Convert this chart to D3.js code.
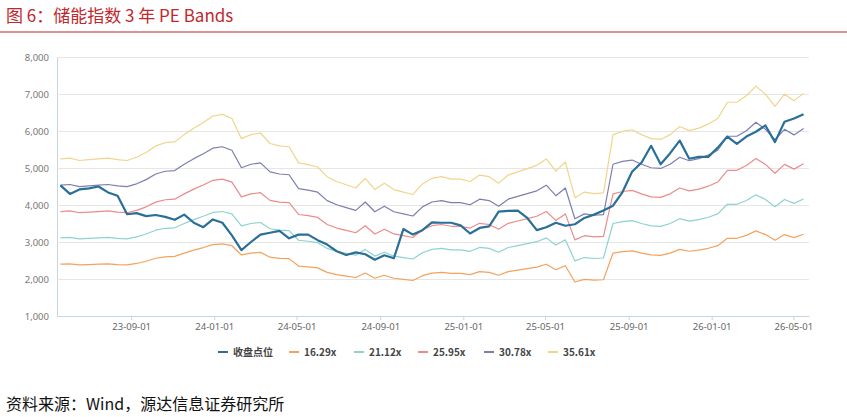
<!DOCTYPE html>
<html><head><meta charset="utf-8">
<script src="https://cdn.jsdelivr.net/npm/d3@7"></script>
<style>body{margin:0;background:#fff;font-family:"Noto Sans CJK SC","Noto Sans",sans-serif;}</style>
</head><body><div id="chart"></div>
<script>
// 1. Data, one point every 14 days from 2023-05-20
const startDate = "2023-05-20";
const closeValues = [4530,4300,4420,4450,4500,4340,4250,3750,3780,3700,3730,3680,3600,3740,3520,3400,3610,3520,3180,2780,
  3000,3200,3250,3300,3100,3200,3200,3050,2930,2750,2650,2720,2670,2520,2640,2560,3350,3200,3320,3530,
  3520,3520,3450,3230,3380,3420,3820,3840,3850,3650,3320,3400,3520,3440,3480,3650,3740,3850,3980,4350,
  4900,5150,5600,5100,5400,5740,5250,5300,5300,5550,5850,5650,5850,5980,6150,5700,6250,6340,6450];
const band1629 = [2400,2410,2380,2390,2400,2410,2390,2380,2420,2480,2560,2600,2610,2700,2780,2850,2930,2950,2900,2650,
  2700,2720,2590,2560,2550,2350,2330,2300,2180,2120,2080,2040,2160,2020,2100,2020,1990,1960,2090,2160,
  2180,2150,2150,2120,2200,2180,2100,2200,2240,2280,2320,2400,2250,2360,1920,1990,1970,1980,2700,2740,
  2760,2700,2650,2640,2700,2800,2750,2780,2830,2900,3100,3100,3180,3300,3200,3050,3200,3120,3210];
const multiples = [16.29, 21.12, 25.95, 30.78, 35.61];
const seriesNames = ["收盘点位", "16.29x", "21.12x", "25.95x", "30.78x", "35.61x"];
const colors = ["#2a6f97", "#f5a25d", "#8dd3cf", "#ec8b8b", "#7c7fae", "#f1d58c"];
const yTicks = [1000, 2000, 3000, 4000, 5000, 6000, 7000, 8000];
const xTickLabels = ["2023-09-01","2024-01-01","2024-05-01","2024-09-01","2025-01-01","2025-05-01","2025-09-01","2026-01-01","2026-05-01"];

// 2. Layout
const width = 847, height = 417;
const margin = {top: 57, right: 38, bottom: 102, left: 57};
const parse = d3.timeParse("%Y-%m-%d");
const t0 = parse(startDate);
const dates = closeValues.map((v, i) => d3.timeDay.offset(t0, i * 14));

const svg = d3.create("svg").attr("width", width).attr("height", height);

// title
svg.append("text").attr("x", 6).attr("y", 22)
  .attr("fill", "#c0282d").attr("font-size", 17)
  .text("图 6：储能指数 3 年 PE Bands");
svg.append("line").attr("x1", 0).attr("x2", width).attr("y1", 32).attr("y2", 32)
  .attr("stroke", "#c0282d").attr("stroke-width", 1.2);

// 3. Scales
const xScale = d3.scaleTime()
  .domain([d3.timeDay.offset(t0, -5), d3.timeDay.offset(dates[dates.length - 1], 8)])
  .range([margin.left, width - margin.right]);
const yScale = d3.scaleLinear().domain([1000, 8000]).range([height - margin.bottom + 1, margin.top]);

// grid + y axis
svg.append("g").attr("transform", `translate(${margin.left},0)`)
  .call(d3.axisLeft(yScale).tickValues(yTicks).tickFormat(d3.format(",")).tickSize(-(width - margin.left - margin.right)).tickPadding(8))
  .call(g => g.select(".domain").attr("stroke", "#c9d3e6"))
  .call(g => g.selectAll(".tick line").attr("stroke", "#e6e6e6"))
  .call(g => g.selectAll(".tick text").attr("fill", "#777").attr("font-size", 9.5).attr("font-family", "Noto Sans"));

// x axis
svg.append("g").attr("transform", `translate(0,${yScale(1000)})`)
  .call(d3.axisBottom(xScale).tickValues(xTickLabels.map(parse)).tickFormat(d3.timeFormat("%y-%m-%d")).tickSize(4).tickSizeOuter(0))
  .call(g => g.select(".domain").attr("stroke", "#c9d3e6"))
  .call(g => g.selectAll(".tick line").attr("stroke", "#c9d3e6"))
  .call(g => g.selectAll(".tick text").attr("fill", "#666").attr("font-size", 9.5).attr("font-family", "Noto Sans"));

// 4. Lines
const line = d3.line().x((d, i) => xScale(dates[i])).y(d => yScale(d));
const seriesData = [closeValues].concat(multiples.map(m => band1629.map(v => v * m / 16.29)));
// draw bands first, close price on top
[5, 4, 3, 2, 1, 0].forEach(k => {
  svg.append("path").datum(seriesData[k])
    .attr("fill", "none").attr("stroke", colors[k])
    .attr("stroke-width", k === 0 ? 2.2 : 1.2)
    .attr("stroke-linejoin", "round")
    .attr("d", line);
});

// 5. Legend
const legendX = [218, 289, 354, 418, 484, 548];
const legend = svg.append("g").attr("transform", "translate(0,352)");
seriesNames.forEach((name, k) => {
  legend.append("line").attr("x1", legendX[k]).attr("x2", legendX[k] + 10)
    .attr("stroke", colors[k]).attr("stroke-width", 2);
  legend.append("text").attr("x", legendX[k] + 15).attr("y", 3.5)
    .attr("font-size", 10).attr("font-weight", k === 0 ? "bold" : "bold").attr("fill", "#444")
    .text(name);
});

// source
svg.append("text").attr("x", 6).attr("y", 410)
  .attr("font-size", 16).attr("fill", "#111")
  .text("资料来源：Wind，源达信息证券研究所");

document.getElementById("chart").appendChild(svg.node());
</script></body></html>
